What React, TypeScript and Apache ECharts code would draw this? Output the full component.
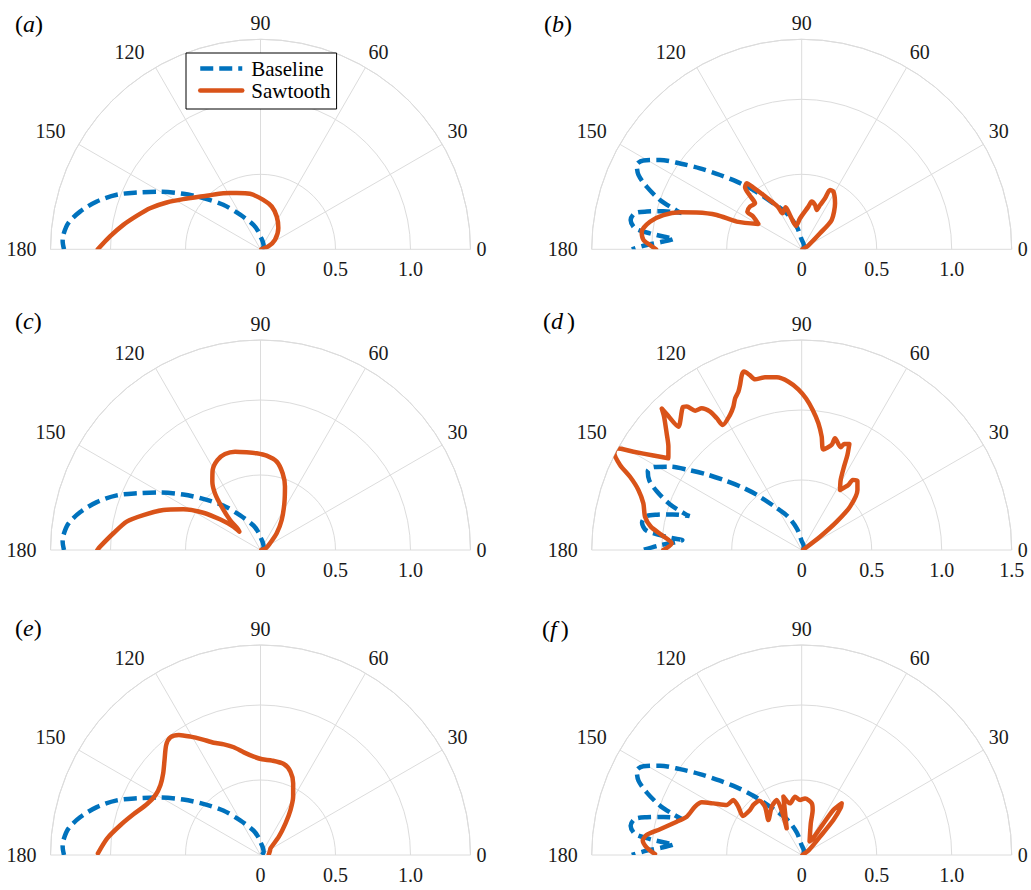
import React, { useEffect, useRef } from "react";
import * as echarts from "echarts";

// ---------- data ----------
const panelLetters = ["a", "b", "c", "d", "e", "f"];
const angleTickLabels = ["0", "30", "60", "90", "120", "150", "180"];
const radiusTickLabelsShort = ["0", "0.5", "1.0"];
const radiusTickLabelsLong = ["0", "0.5", "1.0", "1.5"];
const radiusMaxByPanel = [1.4, 1.4, 1.4, 1.5, 1.4, 1.4];
const legendNames = ["Baseline", "Sawtooth"];

// each point: [radius, angle in degrees]
const baselineACE = [
  [0.01, 0], [0.03, 45], [0.054, 74], [0.085, 90], [0.12, 97], [0.17, 106], [0.27, 120.7],
  [0.387, 129.9], [0.512, 138.2], [0.634, 144.3], [0.772, 150.2], [0.908, 155.4], [1.025, 159.2],
  [1.137, 163.7], [1.229, 168.2], [1.293, 172.2], [1.318, 175.8], [1.32, 177.7], [1.31, 180],
];

const baselineBDF = [
  [0.01, 0], [0.03, 60], [0.07, 92], [0.155, 102.4], [0.26, 112.6], [0.36, 121.6], [0.51, 129.2],
  [0.625, 133.8], [0.736, 137.7], [0.867, 141.5], [0.993, 144.8], [1.117, 147.8], [1.21, 150.7],
  [1.235, 152.9], [1.196, 155.5], [1.115, 158], [1.0, 160.8], [0.873, 162.8], [0.837, 163.2],
  [0.956, 164.6], [1.063, 166.3], [1.137, 167.8], [1.157, 170.3], [1.12, 172.8], [1.017, 174],
  [0.904, 174.9], [0.855, 175.2], [0.924, 176.8], [1.034, 178.4], [1.133, 180],
];

const sawtoothA = [
  [0.005, 0], [0.055, 20], [0.115, 33], [0.185, 50], [0.244, 63.7], [0.295, 75.3], [0.33, 86.8],
  [0.377, 100.7], [0.407, 113], [0.449, 123.5], [0.506, 135.2], [0.614, 147], [0.699, 153.5],
  [0.786, 159.6], [0.855, 164.9], [0.929, 169.9], [1.007, 175.1], [1.085, 180],
];

const sawtoothB = [
  [0.005, 0], [0.05, 30], [0.162, 41.1], [0.28, 44.4], [0.379, 54.1], [0.439, 61.2], [0.438, 64.5],
  [0.374, 65.4], [0.32, 67.5], [0.281, 69.1], [0.309, 73.3], [0.325, 78.2], [0.288, 81.1],
  [0.207, 93], [0.16, 103.7], [0.23, 108.6], [0.3, 110.9], [0.272, 118.2], [0.32, 119.1],
  [0.376, 122.2], [0.443, 125.2], [0.52, 128], [0.573, 129.8], [0.56, 132.4], [0.503, 133.9],
  [0.437, 135.4], [0.447, 140.4], [0.441, 145.3], [0.389, 146], [0.335, 149.7], [0.471, 156.9],
  [0.611, 158], [0.742, 160.7], [0.848, 163.1], [0.95, 166.1], [1.028, 169.7], [1.073, 173.7],
  [1.057, 176.6], [1.012, 178.4], [0.971, 180],
];

const sawtoothC = [
  [0.005, 0], [0.04, 20], [0.077, 35], [0.155, 45.9], [0.245, 54.8], [0.349, 62.9], [0.453, 68.9],
  [0.532, 73.9], [0.599, 79.6], [0.63, 86.3], [0.645, 92.3], [0.658, 98.1], [0.677, 104.5],
  [0.682, 110.3], [0.665, 115.6], [0.621, 120.9], [0.557, 125.2], [0.484, 128.8], [0.388, 131.9],
  [0.285, 135.5], [0.211, 136.9], [0.187, 139.1], [0.239, 139.3], [0.339, 142.9], [0.455, 146.9],
  [0.582, 152.2], [0.7, 157.6], [0.815, 163.4], [0.912, 168], [0.987, 173.5], [1.07, 178.8],
  [1.088, 180],
];

const sawtoothD = [
  [0.01, 10], [0.162, 36], [0.322, 39], [0.464, 41.9], [0.585, 47.1], [0.635, 51.2], [0.619, 53.9],
  [0.571, 54.3], [0.509, 57.4], [0.572, 60.9], [0.668, 63.1], [0.753, 64.3], [0.83, 65.8],
  [0.815, 68.2], [0.785, 69.2], [0.832, 73.4], [0.78, 74.1], [0.735, 77.9], [0.822, 80],
  [0.913, 82.5], [1.003, 85.5], [1.084, 88.4], [1.148, 91.2], [1.206, 94.5], [1.246, 98.2],
  [1.261, 102], [1.264, 105.3], [1.305, 106.6], [1.339, 107.9], [1.321, 108.9], [1.258, 110.5],
  [1.218, 111.8], [1.183, 113.7], [1.134, 115.5], [1.092, 118], [1.056, 122.3], [1.119, 122.8],
  [1.185, 123.5], [1.239, 125.2], [1.253, 127.4], [1.313, 128.7], [1.327, 129.8], [1.246, 135],
  [1.369, 134.8], [1.421, 134.7], [1.369, 135.9], [1.274, 139.2], [1.205, 142.2], [1.156, 145.5],
  [1.256, 147.5], [1.392, 149.7], [1.508, 151.2], [1.506, 152.7], [1.433, 154.9], [1.333, 156.9],
  [1.243, 159.8], [1.179, 163.6], [1.144, 168], [1.091, 171.2], [1.006, 173.9], [0.93, 177.1],
  [0.988, 180],
];

const sawtoothE = [
  [0.055, 3], [0.07, 25], [0.08, 33.7], [0.173, 45], [0.269, 51.7], [0.36, 56.3], [0.446, 60.8],
  [0.525, 65.5], [0.59, 70.2], [0.626, 75.6], [0.634, 83], [0.638, 89], [0.657, 93.9],
  [0.693, 99.2], [0.74, 103.9], [0.777, 108.3], [0.811, 112.6], [0.864, 116.8], [0.917, 120.6],
  [0.968, 124.2], [0.988, 127.4], [0.966, 130.6], [0.9, 135.3], [0.847, 140], [0.814, 145],
  [0.806, 150.3], [0.829, 155.8], [0.888, 162.1], [0.954, 167.9], [1.028, 173.8], [1.084, 179.4],
];

const sawtoothF = [
  [0.005, 0], [0.06, 35], [0.173, 45], [0.315, 47.9], [0.41, 50.5], [0.436, 52.3], [0.367, 54.9],
  [0.238, 55.5], [0.127, 56], [0.105, 60], [0.22, 74], [0.309, 76.3], [0.351, 79], [0.378, 86.6],
  [0.367, 91.7], [0.391, 96.5], [0.353, 102.7], [0.408, 107.4], [0.204, 119.4], [0.403, 114.4],
  [0.379, 121.8], [0.322, 133.6], [0.404, 127.2], [0.459, 127.9], [0.464, 134], [0.457, 138.9],
  [0.471, 146.5], [0.531, 142.7], [0.585, 141.2], [0.601, 146.3], [0.682, 149.7], [0.753, 152.2],
  [0.781, 155.6], [0.808, 161.6], [0.862, 165.1], [0.96, 169.7], [1.042, 172.6], [1.064, 174.8],
  [1.035, 177.2], [0.978, 179.6],
];

const baselineByPanel = [baselineACE, baselineBDF, baselineACE, baselineBDF, baselineACE, baselineBDF];
const sawtoothByPanel = [sawtoothA, sawtoothB, sawtoothC, sawtoothD, sawtoothE, sawtoothF];

// ---------- layout / style ----------
const SERIF = "Liberation Serif";
const BLUE = "#0072BD";
const ORANGE = "#D95319";
const GRID = "#dcdcdc";
const TEXT = "#1a1a1a";
const colX = [260.5, 801.7];
const rowY = [249.3, 550, 855];
const R = 210;
const labelPos = [[15, 24], [544, 24], [15, 321], [543, 321], [15, 628], [542, 629]];

export default function App() {
  const ref = useRef<HTMLDivElement>(null);

  useEffect(() => {
    if (!ref.current) return;
    const chart = echarts.init(ref.current, undefined, { renderer: "svg" });

    const polar = panelLetters.map((_, i) => ({
      center: [colX[i % 2], rowY[Math.floor(i / 2)]],
      radius: [0, R],
    }));

    const angleAxis = panelLetters.map((_, i) => ({
      polarIndex: i,
      type: "value",
      min: 0,
      max: 180,
      interval: 30,
      startAngle: 0,
      endAngle: 180,
      clockwise: false,
      axisLine: { show: true, lineStyle: { color: GRID, width: 1 } },
      axisTick: { show: false },
      splitLine: { show: true, lineStyle: { color: GRID, width: 1 } },
      axisLabel: {
        show: true,
        margin: 6,
        color: TEXT,
        fontFamily: SERIF,
        fontSize: 20,
        formatter: (v: number) => {
          const s = String(v);
          if (!angleTickLabels.includes(s)) return "";
          return v >= 120 ? `{l|${s}}` : s;
        },
        rich: {
          l: { padding: [0, 8, 0, 0], color: TEXT, fontFamily: SERIF, fontSize: 20 },
        },
      },
    }));

    const radiusAxis = panelLetters.map((_, i) => {
      const labels = radiusMaxByPanel[i] === 1.5 ? radiusTickLabelsLong : radiusTickLabelsShort;
      return {
        polarIndex: i,
        type: "value",
        min: 0,
        max: radiusMaxByPanel[i],
        interval: 0.5,
        axisLine: { show: false },
        axisTick: { show: false },
        splitLine: { show: true, lineStyle: { color: GRID, width: 1 } },
        axisLabel: {
          show: true,
          margin: -10,
          verticalAlign: "top",
          color: TEXT,
          fontFamily: SERIF,
          fontSize: 20,
          formatter: (v: number) => {
            const s = v === 0 ? "0" : v.toFixed(1);
            return labels.includes(s) ? s : "";
          },
        },
      };
    });

    const series: any[] = [];
    panelLetters.forEach((_, i) => {
      series.push({
        type: "line",
        name: legendNames[0],
        coordinateSystem: "polar",
        polarIndex: i,
        data: baselineByPanel[i],
        symbol: "none",
        showSymbol: false,
        smooth: 0.3,
        silent: true,
        z: 2,
        itemStyle: { color: BLUE },
        lineStyle: { color: BLUE, width: 4.5, type: [13, 6], cap: "butt" },
      });
      series.push({
        type: "line",
        name: legendNames[1],
        coordinateSystem: "polar",
        polarIndex: i,
        data: sawtoothByPanel[i],
        symbol: "none",
        showSymbol: false,
        smooth: 0.25,
        silent: true,
        z: 3,
        itemStyle: { color: ORANGE },
        lineStyle: { color: ORANGE, width: 4.5, cap: "round", join: "round" },
      });
    });

    const graphic = panelLetters.map((l, i) => ({
      type: "text",
      x: labelPos[i][0],
      y: labelPos[i][1],
      style: {
        text: `{n|(}{${l === "d" || l === "f" ? "j" : "i"}|${l}}{n|)}`,
        verticalAlign: "middle",
        rich: {
          n: { fontFamily: SERIF, fontSize: 24, fill: "#000" },
          i: { fontFamily: SERIF, fontSize: 24, fontStyle: "italic", fill: "#000" },
          j: { fontFamily: SERIF, fontSize: 24, fontStyle: "italic", fill: "#000", padding: [0, 4, 0, 0] },
        },
      },
    }));

    chart.setOption({
      animation: false,
      backgroundColor: "#ffffff",
      textStyle: { fontFamily: SERIF },
      polar,
      angleAxis,
      radiusAxis,
      legend: {
        show: true,
        data: legendNames,
        orient: "vertical",
        left: 186,
        top: 53,
        itemWidth: 42,
        itemHeight: 14,
        itemGap: 1,
        padding: [5, 6, 8, 12],
        borderColor: "#000",
        borderWidth: 1,
        borderRadius: 0,
        backgroundColor: "#ffffff",
        selectedMode: false,
        itemStyle: { color: "transparent", borderColor: "transparent", borderWidth: 0, opacity: 0 },
        lineStyle: { width: 4.5 },
        textStyle: { fontFamily: SERIF, fontSize: 21, color: "#000", padding: [0, 0, 0, 4] },
      },
      graphic,
      series,
    });

    return () => chart.dispose();
  }, []);

  return (
    <div
      ref={ref}
      style={{ position: "fixed", left: 0, top: 0, width: 1031, height: 890, background: "#fff" }}
    />
  );
}
